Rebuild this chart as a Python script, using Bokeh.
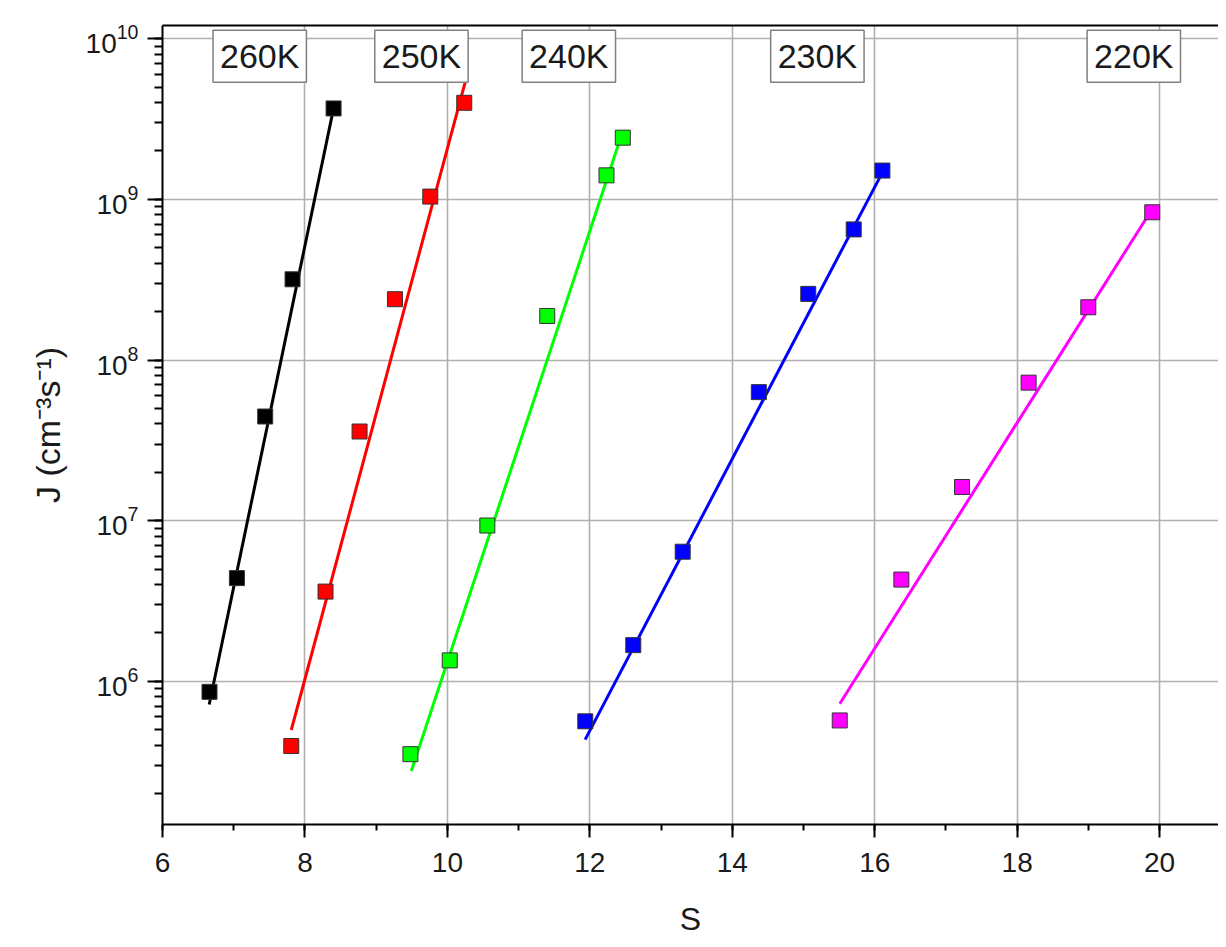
from bokeh.plotting import figure
from bokeh.models import Range1d, LinearAxis, Label, LogTicker, SingleIntervalTicker
from bokeh.embed import file_html
from bokeh.resources import INLINE

FONT = "Liberation Sans"

temps = ["260K", "250K", "240K", "230K", "220K"]
colors = ["#000000", "#ff0000", "#00ff00", "#0000ff", "#ff00ff"]

s_260 = [6.66, 7.045, 7.442, 7.826, 8.402]
j_260 = [8.6e5, 4.39e6, 4.45e7, 3.18e8, 3.68e9]
s_250 = [7.808, 8.289, 8.767, 9.264, 9.760, 10.237]
j_250 = [3.96e5, 3.62e6, 3.59e7, 2.39e8, 1.04e9, 3.99e9]
s_240 = [9.481, 10.033, 10.561, 11.402, 12.234, 12.463]
j_240 = [3.52e5, 1.35e6, 9.33e6, 1.88e8, 1.41e9, 2.42e9]
s_230 = [11.936, 12.610, 13.304, 14.373, 15.067, 15.705, 16.108]
j_230 = [5.64e5, 1.68e6, 6.41e6, 6.31e7, 2.58e8, 6.5e8, 1.51e9]
s_220 = [15.509, 16.374, 17.226, 18.161, 18.999, 19.897]
j_220 = [5.71e5, 4.30e6, 1.62e7, 7.23e7, 2.13e8, 8.31e8]

# linear-fit lines (on log scale): start/end S and J
fit_s0 = [6.656, 7.808, 9.494, 11.934, 15.509]
fit_s1 = [8.402, 10.27, 12.45, 16.09, 19.836]
fit_j0 = [7.18e5, 4.98e5, 2.77e5, 4.34e5, 7.26e5]
fit_j1 = [3.68e9, 5.78e9, 2.55e9, 1.42e9, 7.91e8]

# temperature labels
label_s = [7.365, 9.636, 11.705, 15.195, 19.638]
label_j = [7.76e9] * 5

series_s = [s_260, s_250, s_240, s_230, s_220]
series_j = [j_260, j_250, j_240, j_230, j_220]

p = figure(width=1218, height=939, y_axis_type="log",
           x_range=Range1d(6, 20.827), y_range=Range1d(10 ** 5.109, 10 ** 10.082),
           output_backend="svg", toolbar_location=None,
           min_border_left=162, min_border_right=0, min_border_top=25, min_border_bottom=112)
p.outline_line_color = None
p.background_fill_color = "white"
p.border_fill_color = "white"

# grids
p.xgrid.grid_line_color = "#b0b0b0"
p.xgrid.grid_line_width = 1.6
p.ygrid.grid_line_color = "#b0b0b0"
p.ygrid.grid_line_width = 1.6

# x axis
xa = p.xaxis[0]
xa.ticker = SingleIntervalTicker(interval=2, num_minor_ticks=2)
xa.axis_label = "S"
xa.axis_line_width = 2
xa.axis_line_color = "black"
xa.major_tick_out = 13
xa.major_tick_in = 0
xa.minor_tick_out = 6
xa.minor_tick_in = 0
xa.major_tick_line_width = 2
xa.minor_tick_line_width = 2
xa.major_label_text_font = FONT
xa.major_label_text_font_size = "28px"
xa.major_label_text_color = "#1a1a1a"
xa.major_label_standoff = 15
xa.axis_label_text_font = FONT
xa.axis_label_text_font_size = "32px"
xa.axis_label_text_font_style = "normal"
xa.axis_label_text_color = "#1a1a1a"
xa.axis_label_standoff = 26

# y axis
ya = p.yaxis[0]
ya.ticker = LogTicker(num_minor_ticks=10)
ya.axis_label = "J (cm\u207b\u00b3s\u207b\u00b9)"
ya.axis_line_width = 2
ya.axis_line_color = "black"
ya.major_tick_out = 15
ya.major_tick_in = 0
ya.minor_tick_out = 8
ya.minor_tick_in = 0
ya.major_tick_line_width = 2
ya.minor_tick_line_width = 2
ya.major_label_text_font = FONT
ya.major_label_text_font_size = "28px"
ya.major_label_text_color = "#1a1a1a"
ya.major_label_standoff = 9
ya.axis_label_text_font = FONT
ya.axis_label_text_font_size = "34px"
ya.axis_label_text_font_style = "normal"
ya.axis_label_text_color = "#1a1a1a"
ya.axis_label_standoff = 16

# top border line
top = LinearAxis(axis_line_color="black", axis_line_width=2,
                 major_tick_line_color=None, minor_tick_line_color=None,
                 major_label_text_font_size="0px", major_label_text_color=None)
p.add_layout(top, "above")

# fit lines
for i in range(len(temps)):
    p.line([fit_s0[i], fit_s1[i]], [fit_j0[i], fit_j1[i]], line_color=colors[i], line_width=3)

# markers
for i in range(len(temps)):
    p.scatter(series_s[i], series_j[i], marker="square", size=15,
              fill_color=colors[i], line_color="#333333", line_width=1)

# temperature labels
for i in range(len(temps)):
    p.add_layout(Label(x=label_s[i], y=label_j[i], text=temps[i],
                       text_font=FONT, text_font_size="34px", text_color="#1a1a1a",
                       text_align="center", text_baseline="middle",
                       background_fill_color="white", border_line_color="#808080",
                       border_line_width=1.5, padding=7))

open("out.html", "w").write(file_html(p, INLINE))
